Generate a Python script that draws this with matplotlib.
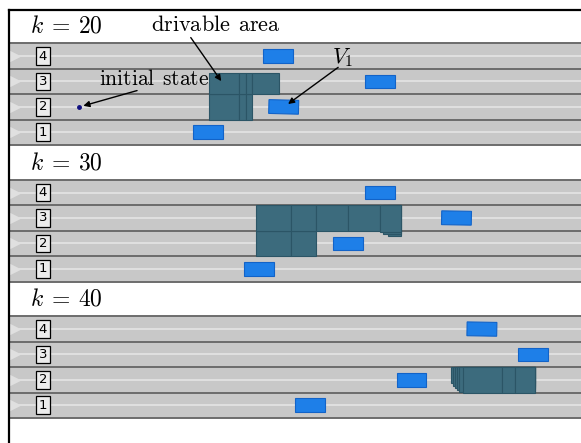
import matplotlib
matplotlib.use('Agg')
from matplotlib import pyplot as plt
from matplotlib.patches import Rectangle

plt.rcParams['mathtext.fontset'] = 'cm'

# 比例: 每米像素数
S = 7.26
# 车道宽度和车道编号
LANE_W = 3.5
lane_ids = [1, 2, 3, 4]
# 三个时刻
steps = [20, 30, 40]
# 每个时刻面板底部的纵坐标
panel_base = [37.6, 18.8, 0.0]

# 其他车辆的纵向位置(按车道 1-4), 航向角(度)
veh_x_k20 = [27.3, 37.7, 51.0, 36.9]
veh_a_k20 = [0, -1.5, 0, 0]
veh_x_k30 = [34.3, 46.6, 61.5, 51.0]
veh_a_k30 = [0, 0, -1, 0]
veh_x_k40 = [41.3, 55.3, 72.0, 65.0]
veh_a_k40 = [0, 0, 0, -1]
VEH_L, VEH_W = 4.1, 1.9

# 可行驶区域 (x0, x1, y0, y1), 按绘制顺序
area_k20 = [(27.4, 31.6, 3.5, 7.0), (31.6, 32.5, 3.5, 7.0), (32.5, 33.4, 3.5, 7.0),
            (27.4, 31.6, 7.0, 9.9), (31.6, 32.5, 7.0, 9.9), (32.5, 33.4, 7.0, 9.9),
            (33.4, 37.1, 7.0, 9.9)]
area_k30 = [(33.9, 38.7, 3.5, 7.0), (38.7, 42.2, 3.5, 7.0),
            (33.9, 38.7, 7.0, 10.5), (38.7, 42.2, 7.0, 10.5), (42.2, 46.6, 7.0, 10.5),
            (46.6, 51.0, 7.0, 10.5), (52.0, 53.8, 6.2, 10.5), (51.4, 53.8, 6.5, 10.5),
            (51.0, 53.8, 6.8, 10.5)]
area_k40 = [(60.7, 72.3, 4.78, 7.0), (61.0, 72.3, 4.4, 7.0), (61.3, 72.3, 4.1, 7.0),
            (61.6, 72.3, 3.86, 7.0), (61.9, 72.3, 3.62, 7.0), (62.4, 67.7, 3.5, 7.0),
            (67.7, 69.5, 3.5, 7.0), (69.5, 72.3, 3.5, 7.0)]

# 初始状态
init_x, init_lane = 9.5, 2

X_MAX = (581 - 10) / S


def draw_road(ax, base):
    """画四条车道"""
    for i in range(4):
        y0 = base + i * LANE_W
        ax.add_patch(Rectangle((0, y0), X_MAX + 1, LANE_W, facecolor='#c8c8c8',
                               edgecolor='none', zorder=1))
        yc = y0 + LANE_W / 2
        ax.plot([0, X_MAX + 1], [yc, yc], color='#e2e2e2', lw=1.3, zorder=1.5)
        ax.plot([0.75], [yc], marker='>', ms=8, color='#e0e0e0', mec='none', zorder=1.6)
        ax.text(4.55, yc, str(lane_ids[i]), fontsize=9.5, ha='center', va='center',
                zorder=6, bbox=dict(boxstyle='square,pad=0.18', fc='#ececec',
                                    ec='black', lw=0.9))
    for i in range(5):
        y = base + i * LANE_W
        ax.plot([0, X_MAX + 1], [y, y], color='#6c6c6c', lw=1.4, zorder=2)


def draw_area(ax, base, rects):
    """画可行驶区域"""
    for x0, x1, y0, y1 in rects:
        ax.add_patch(Rectangle((x0, base + y0), x1 - x0, y1 - y0, facecolor='#3c6b7d',
                               edgecolor='#2b5566', lw=0.8, zorder=3))


def draw_vehicles(ax, base, xs, angles):
    """画其他车辆"""
    for lane, x, a in zip(lane_ids, xs, angles):
        yc = base + (lane - 0.5) * LANE_W
        ax.add_patch(Rectangle((x - VEH_L / 2, yc - VEH_W / 2), VEH_L, VEH_W, angle=a,
                               rotation_point='center', facecolor='#1e7fe8',
                               edgecolor='#1263c8', lw=0.8, zorder=4))


def main():
    fig = plt.figure(figsize=(5.81, 4.43), dpi=100)
    ax = fig.add_axes([9 / 581, 0, 1 - 9 / 581, (443 - 10) / 443])
    ax.set_xlim(-1 / S, X_MAX)
    ax.set_ylim(-25 / S, (418 - 10) / S)
    ax.set_xticks([])
    ax.set_yticks([])
    ax.spines['right'].set_visible(False)
    ax.spines['bottom'].set_visible(False)
    ax.spines['left'].set_linewidth(1.6)
    ax.spines['top'].set_linewidth(1.6)

    areas = [area_k20, area_k30, area_k40]
    veh_x = [veh_x_k20, veh_x_k30, veh_x_k40]
    veh_a = [veh_a_k20, veh_a_k30, veh_a_k40]
    for k, base, area, xs, ang in zip(steps, panel_base, areas, veh_x, veh_a):
        draw_road(ax, base)
        draw_area(ax, base, area)
        draw_vehicles(ax, base, xs, ang)
        ax.text(2.7, base + 16.4, r'$k\:=\:%d$' % k, fontsize=17, ha='left', va='center')

    # 标注 (第一个面板)
    b = panel_base[0]
    iy = b + (init_lane - 0.5) * LANE_W
    ax.plot([init_x], [iy], 'o', ms=2.5, color='#101080', zorder=5)
    arrow = dict(arrowstyle='-|>', color='black', lw=1.0, mutation_scale=9,
                 shrinkA=0, shrinkB=0)
    ax.text(28.3, b + 16.5, r'$\mathrm{drivable\;\,area}$', fontsize=16,
            ha='center', va='center', zorder=7)
    ax.annotate('', xy=(29.1, b + 8.8), xytext=(24.9, b + 14.8), arrowprops=arrow, zorder=7)
    ax.text(19.8, b + 9.1, r'$\mathrm{initial\;\,state}$', fontsize=15.5,
            ha='center', va='center', zorder=7)
    ax.annotate('', xy=(10.1, b + 5.4), xytext=(17.5, b + 7.5), arrowprops=arrow, zorder=7)
    ax.text(45.9, b + 12.0, r'$V_1$', fontsize=16, ha='center', va='center', zorder=7)
    ax.annotate('', xy=(38.3, b + 5.65), xytext=(45.2, b + 10.7), arrowprops=arrow, zorder=7)

    plt.savefig('out.png', dpi=100)


if __name__ == '__main__':
    main()
